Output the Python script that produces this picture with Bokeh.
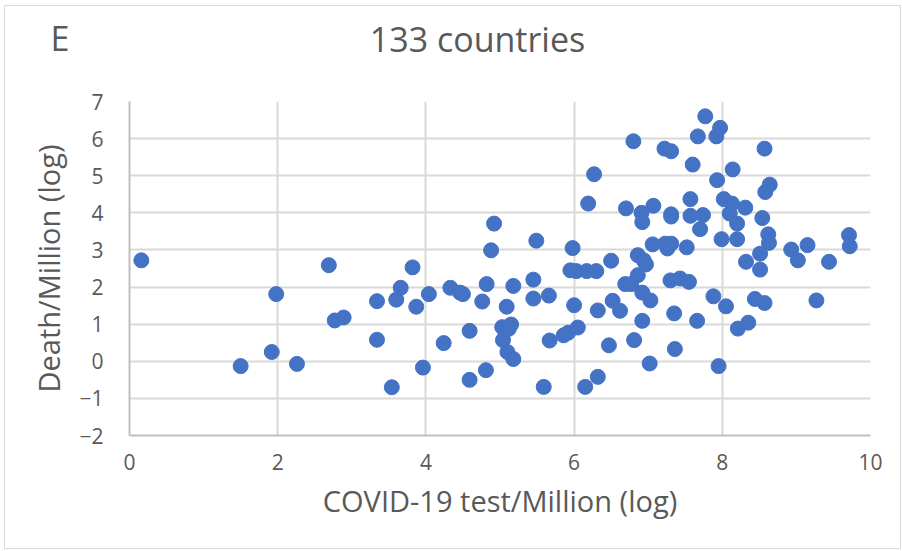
from bokeh.plotting import figure
from bokeh.layouts import column
from bokeh.models import FixedTicker, Range1d
from bokeh.core.properties import value
from bokeh.embed import file_html
from bokeh.resources import INLINE

# log tests per million vs log deaths per million, one point per country
test_log = [
    0.16, 1.50, 1.92, 1.98, 2.26, 2.69, 2.77, 2.89, 3.34, 3.34,
    3.54, 3.60, 3.66, 3.82, 3.87, 3.96, 4.04, 4.24, 4.33, 4.46,
    4.50, 4.59, 4.59, 4.76, 4.82, 4.81, 4.88, 4.92, 5.09, 5.18,
    5.03, 5.15, 5.07, 5.12, 5.04, 5.10, 5.18, 5.45, 5.45, 5.49,
    5.66, 5.67, 5.59, 5.86, 5.92, 6.05, 5.98, 5.95, 6.03, 6.17,
    6.30, 6.00, 6.15, 6.32, 6.19, 6.27, 6.50, 6.52, 6.62, 6.32,
    6.47, 6.70, 6.80, 6.69, 6.77, 6.81, 6.86, 6.94, 6.97, 6.86,
    6.91, 6.92, 7.07, 6.92, 7.03, 6.92, 7.02, 7.06, 7.23, 7.31,
    7.26, 7.52, 7.30, 7.43, 7.55, 7.35, 7.66, 7.36, 7.31, 7.31,
    7.22, 7.31, 7.57, 7.57, 7.74, 7.70, 7.60, 7.67, 7.77, 7.92,
    7.97, 7.93, 8.14, 8.57, 8.02, 8.13, 8.31, 8.10, 8.20, 8.54,
    8.62, 8.63, 8.58, 8.64, 7.99, 8.20, 8.32, 8.51, 8.51, 8.93,
    9.02, 9.15, 9.44, 9.71, 9.72, 7.88, 8.05, 8.44, 8.57, 9.27,
    8.21, 8.35, 7.95,
]
death_log = [
    2.72, -0.13, 0.25, 1.81, -0.07, 2.59, 1.10, 1.18, 1.62, 0.58,
    -0.70, 1.66, 1.98, 2.53, 1.47, -0.17, 1.81, 0.49, 1.98, 1.85,
    1.81, 0.82, -0.50, 1.61, 2.08, -0.24, 2.99, 3.71, 1.47, 2.03,
    0.92, 0.99, 0.82, 0.88, 0.57, 0.25, 0.06, 2.20, 1.69, 3.25,
    1.77, 0.56, -0.69, 0.70, 0.77, 0.91, 3.05, 2.45, 2.43, 2.43,
    2.43, 1.51, -0.69, -0.42, 4.25, 5.04, 2.71, 1.63, 1.36, 1.37,
    0.43, 4.12, 5.93, 2.08, 2.08, 0.57, 2.86, 2.72, 2.61, 2.32,
    4.00, 3.75, 4.19, 1.85, 1.64, 1.09, -0.06, 3.15, 3.17, 3.17,
    3.04, 3.07, 2.18, 2.23, 2.14, 1.29, 1.09, 0.33, 3.96, 3.90,
    5.73, 5.66, 4.37, 3.92, 3.94, 3.56, 5.30, 6.06, 6.60, 6.06,
    6.29, 4.88, 5.17, 5.73, 4.37, 4.25, 4.14, 3.98, 3.71, 3.86,
    3.42, 3.19, 4.56, 4.76, 3.29, 3.29, 2.68, 2.90, 2.47, 3.01,
    2.72, 3.13, 2.68, 3.40, 3.10, 1.75, 1.48, 1.68, 1.57, 1.64,
    0.88, 1.04, -0.13,
]

x_ticks = [0, 2, 4, 6, 8, 10]
y_ticks = [-2, -1, 0, 1, 2, 3, 4, 5, 6, 7]

title_text = "133 countries"
panel_letter = "E"
x_label = "COVID-19 test/Million (log)"
y_label = "Death/Million (log)"

text_grey = "#595959"
font = "Open Sans"
W = 895

# header strip: panel letter on the left, title centred over the chart
header = figure(
    width=W, height=80,
    x_range=Range1d(0, W), y_range=Range1d(0, 80),
    output_backend="svg", toolbar_location=None,
    min_border=0, outline_line_color=None,
    background_fill_color="white", border_fill_color="white",
)
header.frame_align = False
header.axis.visible = False
header.grid.visible = False
header.text(x=[45], y=[49], text=[panel_letter], text_font=value(font),
            text_font_size="34px", text_color=text_grey,
            text_baseline="alphabetic", text_align="left")
header.text(x=[472], y=[48], text=[title_text], text_font=value(font),
            text_font_size="34px", text_color=text_grey,
            text_baseline="alphabetic", text_align="center")

p = figure(
    width=W, height=462,
    x_range=Range1d(0, 10), y_range=Range1d(-2, 7),
    output_backend="svg", toolbar_location=None,
    min_border_left=124, min_border_right=30,
    min_border_top=15, min_border_bottom=113,
    background_fill_color="white", border_fill_color="white",
)
p.frame_align = False
p.outline_line_color = None

p.xaxis.ticker = FixedTicker(ticks=x_ticks)
p.yaxis.ticker = FixedTicker(ticks=y_ticks)
for ax in (p.xaxis, p.yaxis):
    ax.major_tick_line_color = None
    ax.minor_tick_line_color = None
    ax.axis_line_color = "#bfbfbf"
    ax.axis_line_width = 2
    ax.major_label_text_font = font
    ax.major_label_text_font_size = "21px"
    ax.major_label_text_color = text_grey
    ax.axis_label_text_font = font
    ax.axis_label_text_font_style = "normal"
    ax.axis_label_text_color = text_grey

p.xaxis.axis_label = x_label
p.yaxis.axis_label = y_label
p.xaxis.axis_label_text_font_size = "29px"
p.yaxis.axis_label_text_font_size = "29px"
p.xaxis.major_label_standoff = 12
p.yaxis.major_label_standoff = 20
p.xaxis.axis_label_standoff = 8
p.yaxis.axis_label_standoff = 8

p.grid.grid_line_color = "#d9d9d9"
p.grid.grid_line_width = 2

p.scatter(test_log, death_log, size=15, color="#4472c4", line_color="#4472c4")

layout = column(header, p, spacing=0)
layout.margin = (5, 3, 2, 4)
layout.styles = {"border": "1px solid #d9d9d9"}

open("out.html", "w").write(file_html(layout, INLINE))
